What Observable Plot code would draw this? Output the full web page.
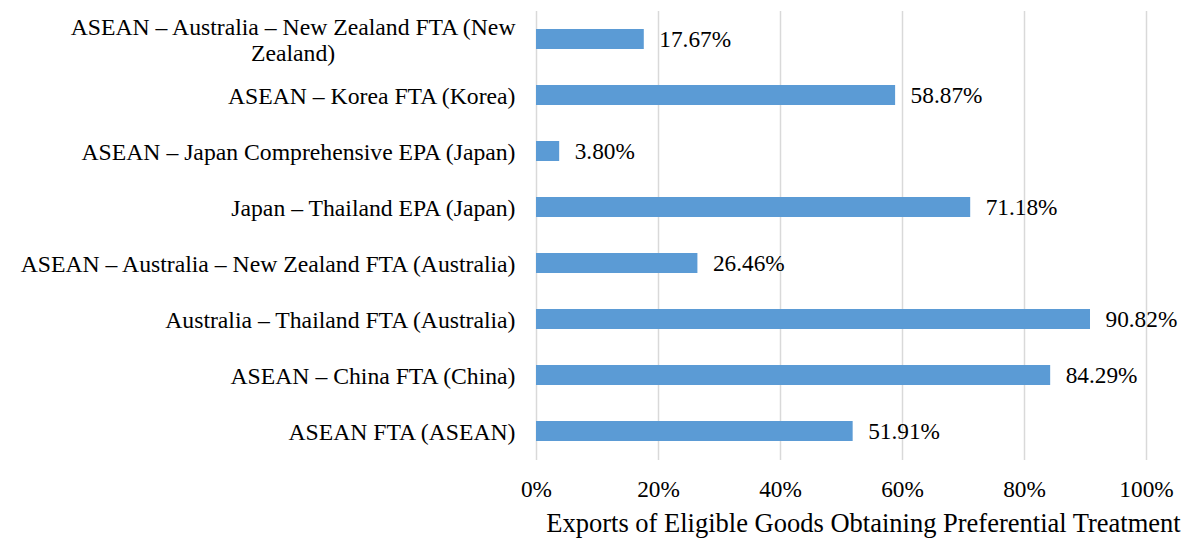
<!DOCTYPE html>
<html><head><meta charset="utf-8">
<script src="https://cdn.jsdelivr.net/npm/d3@7"></script>
<script src="https://cdn.jsdelivr.net/npm/@observablehq/plot@0.6"></script>
<style>body{margin:0;background:#fff;} svg text{font-family:'Liberation Serif','Times New Roman',serif !important;font-variant:normal !important;}</style>
</head><body><div id="chart"></div>
<script>
const agreements = [
  "ASEAN – Australia – New Zealand FTA (New Zealand)",
  "ASEAN – Korea FTA (Korea)",
  "ASEAN – Japan Comprehensive EPA (Japan)",
  "Japan – Thailand EPA (Japan)",
  "ASEAN – Australia – New Zealand FTA (Australia)",
  "Australia – Thailand FTA (Australia)",
  "ASEAN – China FTA (China)",
  "ASEAN FTA (ASEAN)"
];
const shares = [17.67, 58.87, 3.80, 71.18, 26.46, 90.82, 84.29, 51.91];
const xTicks = [0, 20, 40, 60, 80, 100];
const axisTitle = "Exports of Eligible Goods Obtaining Preferential Treatment";
const wrappedLabels = {
  "ASEAN – Australia – New Zealand FTA (New Zealand)": "ASEAN – Australia – New Zealand FTA (New\nZealand)"
};

const data = agreements.map((a, i) => ({agreement: a, share: shares[i]}));
const font = "'Liberation Serif', 'Times New Roman', serif";

const chart = Plot.plot({
  width: 1184, height: 538,
  marginLeft: 536, marginRight: 38, marginTop: 11, marginBottom: 78,
  style: {fontFamily: font, fontSize: "23px", color: "#000", background: "#fff"},
  x: {domain: [0, 100]},
  y: {domain: agreements, paddingInner: 0.64, paddingOuter: 0.32},
  marks: [
    Plot.gridX(xTicks, {stroke: "#d9d9d9", strokeOpacity: 1, strokeWidth: 1.5}),
    Plot.barX(data, {x: "share", y: "agreement", fill: "#5b9bd5"}),
    Plot.text(data, {x: "share", y: "agreement", text: d => d.share.toFixed(2) + "%",
      textAnchor: "start", dx: 15, fill: "#000", fontSize: 23.3, fontFamily: font}),
    Plot.axisX(xTicks, {tickSize: 0, tickPadding: 20, label: null, tickFormat: d => d + "%",
      fontSize: 23.3, fontFamily: font}),
    Plot.axisY({tickSize: 0, tickPadding: 21, label: null, fontSize: 23.7, lineHeight: 1.08,
      fontFamily: font, tickFormat: d => wrappedLabels[d] || d}),
    Plot.text([axisTitle], {frameAnchor: "bottom", lineAnchor: "middle", dy: 63, dx: 22,
      fontSize: 26.5, fill: "#000", fontFamily: font, text: d => d})
  ]
});
document.getElementById("chart").appendChild(chart);

// center-align the lines of the wrapped y-axis label
chart.querySelectorAll("text").forEach(t => {
  const spans = t.querySelectorAll("tspan");
  if (spans.length > 1) {
    const w = spans[0].getComputedTextLength();
    t.setAttribute("text-anchor", "middle");
    spans.forEach(s => s.setAttribute("x", -w / 2));
  }
});
</script>
</body></html>
